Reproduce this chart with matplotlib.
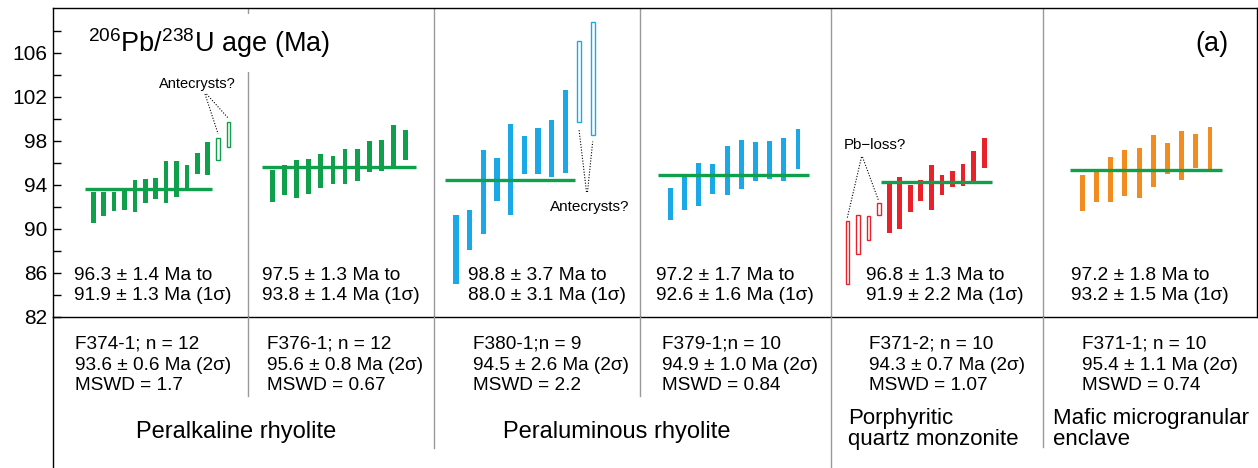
import matplotlib
matplotlib.use('Agg')
import matplotlib.pyplot as plt
import numpy as np

plt.rcParams['font.family'] = ['Liberation Sans', 'DejaVu Sans']
plt.rcParams['mathtext.fontset'] = 'custom'
plt.rcParams['mathtext.rm'] = 'Liberation Sans'

# ---------------- data (ages in Ma, 1 sigma) ----------------
p1_age = [91.94, 92.24, 92.47, 92.63, 93.00, 93.47, 93.69, 94.24, 94.53, 94.76, 95.94, 96.41, 97.30, 98.60]
p1_err = [1.39, 1.09, 0.86, 0.87, 1.45, 1.11, 0.95, 1.91, 1.65, 1.03, 0.94, 1.53, 1.00, 1.10]
p1_open = [0, 0, 0, 0, 0, 0, 0, 0, 0, 0, 0, 0, 1, 1]

p2_age = [93.92, 94.47, 94.53, 94.79, 95.29, 95.38, 95.71, 95.85, 96.59, 96.68, 97.47, 97.60]
p2_err = [1.47, 1.35, 1.71, 1.61, 1.56, 1.29, 1.59, 1.45, 1.41, 1.44, 1.98, 1.36]
p2_open = [0] * 12

p3_age = [88.15, 89.91, 93.38, 94.53, 95.43, 96.72, 97.10, 97.33, 98.88, 103.41, 103.70]
p3_err = [3.15, 1.85, 3.83, 1.95, 4.13, 1.69, 2.08, 2.57, 3.76, 3.68, 5.15]
p3_open = [0, 0, 0, 0, 0, 0, 0, 0, 0, 1, 1]

p4_age = [92.28, 93.31, 94.02, 94.56, 95.35, 95.87, 96.17, 96.25, 96.33, 97.30]
p4_err = [1.43, 1.58, 1.96, 1.35, 2.23, 2.23, 1.78, 1.73, 1.97, 1.82]
p4_open = [0] * 10

p5_age = [87.88, 89.50, 90.06, 91.83, 91.94, 92.37, 92.79, 93.52, 93.75, 93.97, 94.53, 94.88, 95.67, 96.91]
p5_err = [2.88, 1.77, 1.09, 0.53, 2.30, 2.33, 1.24, 0.97, 2.05, 0.91, 0.71, 1.00, 1.40, 1.39]
p5_open = [1, 1, 1, 1, 0, 0, 0, 0, 0, 0, 0, 0, 0, 0]

p6_age = [93.27, 93.83, 94.50, 95.06, 95.11, 96.19, 96.41, 96.68, 97.06, 97.35]
p6_err = [1.67, 1.38, 2.05, 2.09, 2.29, 2.40, 1.38, 2.20, 1.54, 1.93]
p6_open = [0] * 10

mean_ages = [93.6, 95.6, 94.5, 94.9, 94.3, 95.4]

range_line1 = ["96.3 \u00b1 1.4 Ma to", "97.5 \u00b1 1.3 Ma to", "98.8 \u00b1 3.7 Ma to",
               "97.2 \u00b1 1.7 Ma to", "96.8 \u00b1 1.3 Ma to", "97.2 \u00b1 1.8 Ma to"]
range_line2 = ["91.9 \u00b1 1.3 Ma (1\u03c3)", "93.8 \u00b1 1.4 Ma (1\u03c3)", "88.0 \u00b1 3.1 Ma (1\u03c3)",
               "92.6 \u00b1 1.6 Ma (1\u03c3)", "91.9 \u00b1 2.2 Ma (1\u03c3)", "93.2 \u00b1 1.5 Ma (1\u03c3)"]
sample_names = ["F374-1; n = 12", "F376-1; n = 12", "F380-1;n = 9",
                "F379-1;n = 10", "F371-2; n = 10", "F371-1; n = 10"]
wmean_text = ["93.6 \u00b1 0.6 Ma (2\u03c3)", "95.6 \u00b1 0.8 Ma (2\u03c3)", "94.5 \u00b1 2.6 Ma (2\u03c3)",
              "94.9 \u00b1 1.0 Ma (2\u03c3)", "94.3 \u00b1 0.7 Ma (2\u03c3)", "95.4 \u00b1 1.1 Ma (2\u03c3)"]
mswd_text = ["MSWD = 1.7", "MSWD = 0.67", "MSWD = 2.2", "MSWD = 0.84", "MSWD = 1.07", "MSWD = 0.74"]
rock_names = ["Peralkaline rhyolite", "Peraluminous rhyolite",
              "Porphyritic\nquartz monzonite", "Mafic microgranular\nenclave"]

y_ticks = [82, 86, 90, 94, 98, 102, 106]

# ---------------- layout / style ----------------
GREEN = '#0ea04b'
BLUE = '#1aa9e6'
RED = '#e8222b'
ORANGE = '#f28c1f'
SEP = '#9a9a9a'

W, H = 1258, 468
X0, X1 = 53, 1257
Y_TOP, Y_MID = 8, 317
PX_PER_MA = 11.0


def ypx(y):
    return 82 + (Y_MID - y) / PX_PER_MA


panels = [
    dict(age=p1_age, err=p1_err, op=p1_open, color=GREEN, x0=93.3, dx=10.4, w=4.7, ow=3.8, line=(85, 212), tx=74, lx=75),
    dict(age=p2_age, err=p2_err, op=p2_open, color=GREEN, x0=272.3, dx=12.13, w=4.7, ow=4.0, line=(261.7, 416), tx=262, lx=267),
    dict(age=p3_age, err=p3_err, op=p3_open, color=BLUE, x0=456, dx=13.67, w=5.3, ow=4.0, line=(445, 575), tx=468, lx=473),
    dict(age=p4_age, err=p4_err, op=p4_open, color=BLUE, x0=670.3, dx=14.19, w=4.9, ow=4.0, line=(658.3, 809.3), tx=656, lx=662),
    dict(age=p5_age, err=p5_err, op=p5_open, color=RED, x0=847.3, dx=10.52, w=4.9, ow=3.6, line=(880.7, 992.3), tx=866, lx=869),
    dict(age=p6_age, err=p6_err, op=p6_open, color=ORANGE, x0=1082.3, dx=14.19, w=4.9, ow=4.0, line=(1070, 1221.7), tx=1071, lx=1082),
]

fig = plt.figure(figsize=(W / 100, H / 100), dpi=100)
ax = fig.add_axes([X0 / W, 1 - Y_MID / H, (X1 - X0) / W, (Y_MID - Y_TOP) / H])
ax.set_xlim(X0, X1)
ax.set_ylim(82, ypx(Y_TOP))
for s in ax.spines.values():
    s.set_linewidth(1.0)
    s.set_color('black')
ax.set_xticks([])
ax.set_yticks(y_ticks)
ax.set_yticks([t + 2 for t in y_ticks], minor=True)
ax.tick_params(axis='y', which='both', direction='in', length=6, width=1.0,
               labelsize=15, pad=4)

# separators in upper part
for xs in [248, 434, 640, 831, 1043]:
    ax.axvline(xs, color=SEP, lw=1.0, zorder=1)

bar_x = []
for i, p in enumerate(panels):
    age = np.array(p['age'])
    err = np.array(p['err'])
    op = np.array(p['op'], dtype=bool)
    x = p['x0'] + p['dx'] * np.arange(len(age))
    bar_x.append(x)
    ax.bar(x[~op], 2 * err[~op], bottom=(age - err)[~op], width=p['w'],
           color=p['color'], linewidth=0, zorder=2)
    if op.any():
        ax.bar(x[op], 2 * err[op], bottom=(age - err)[op], width=p['ow'],
               facecolor='white', edgecolor=p['color'], linewidth=1.0, zorder=2)
    ax.plot(p['line'], [mean_ages[i]] * 2, color=GREEN, lw=2.4,
            solid_capstyle='butt', zorder=3)
    ax.text(p['tx'], ypx(275), range_line1[i], fontsize=13.8, ha='left', va='center')
    ax.text(p['tx'], ypx(296), range_line2[i], fontsize=13.8, ha='left', va='center')

# title and panel letter
ax.text(88, ypx(43), r'$\mathregular{^{206}}$Pb/$\mathregular{^{238}}$U age (Ma)',
        fontsize=19.5, ha='left', va='center', zorder=5,
        bbox=dict(facecolor='white', edgecolor='none', pad=9))
ax.text(1212, ypx(44), '(a)', fontsize=19.5, ha='center', va='center')

# annotations
dot = dict(color='black', lw=0.8, linestyle=(0, (1, 1.5)), zorder=4)
a1 = np.array(p1_age) + np.array(p1_err)
ax.text(197, ypx(84), 'Antecrysts?', fontsize=10.5, ha='center', va='center')
ax.plot([205, bar_x[0][12]], [ypx(94), a1[12] + 0.35], **dot)
ax.plot([206.5, bar_x[0][13]], [ypx(94), a1[13] + 0.35], **dot)

b3 = np.array(p3_age) - np.array(p3_err)
ax.text(589.7, ypx(207), 'Antecrysts?', fontsize=11, ha='center', va='center')
ax.plot([586.5, bar_x[2][9]], [ypx(192), b3[9] - 0.7], **dot)
ax.plot([587.5, bar_x[2][10]], [ypx(192), b3[10] - 0.6], **dot)

a5 = np.array(p5_age) + np.array(p5_err)
ax.text(875, ypx(145), 'Pb\u2212loss?', fontsize=10.8, ha='center', va='center')
ax.plot([861.5, bar_x[4][0]], [ypx(157), a5[0] + 0.25], **dot)
ax.plot([862.5, bar_x[4][3]], [ypx(157), a5[3] + 0.15], **dot)

# ---------------- lower text area ----------------
ax2 = fig.add_axes([X0 / W, 0, (X1 - X0) / W, (H - Y_MID) / H])
ax2.set_xlim(X0, X1)
ax2.set_ylim(H, Y_MID)
ax2.set_xticks([])
ax2.set_yticks([])
for k in ['top', 'right', 'bottom']:
    ax2.spines[k].set_visible(False)
ax2.spines['left'].set_linewidth(1.0)
ax2.patch.set_alpha(0)

for xs, ye in [(248, 396), (434, 448), (640, 396), (831, 468), (1043, 447)]:
    ax2.plot([xs, xs], [Y_MID, ye], color=SEP, lw=1.0)

for i, p in enumerate(panels):
    ax2.text(p['lx'], 344, sample_names[i], fontsize=13.7, ha='left', va='center')
    ax2.text(p['lx'], 365, wmean_text[i], fontsize=13.7, ha='left', va='center')
    ax2.text(p['lx'], 386, mswd_text[i], fontsize=13.7, ha='left', va='center')

ax2.text(236, 432, rock_names[0], fontsize=17, ha='center', va='center')
ax2.text(617, 432, rock_names[1], fontsize=17, ha='center', va='center')
ax2.text(848, 429, rock_names[2], fontsize=16, ha='left', va='center', linespacing=1.05)
ax2.text(1053, 429, rock_names[3], fontsize=16, ha='left', va='center', linespacing=1.05)

fig.savefig('out.png', dpi=100)
